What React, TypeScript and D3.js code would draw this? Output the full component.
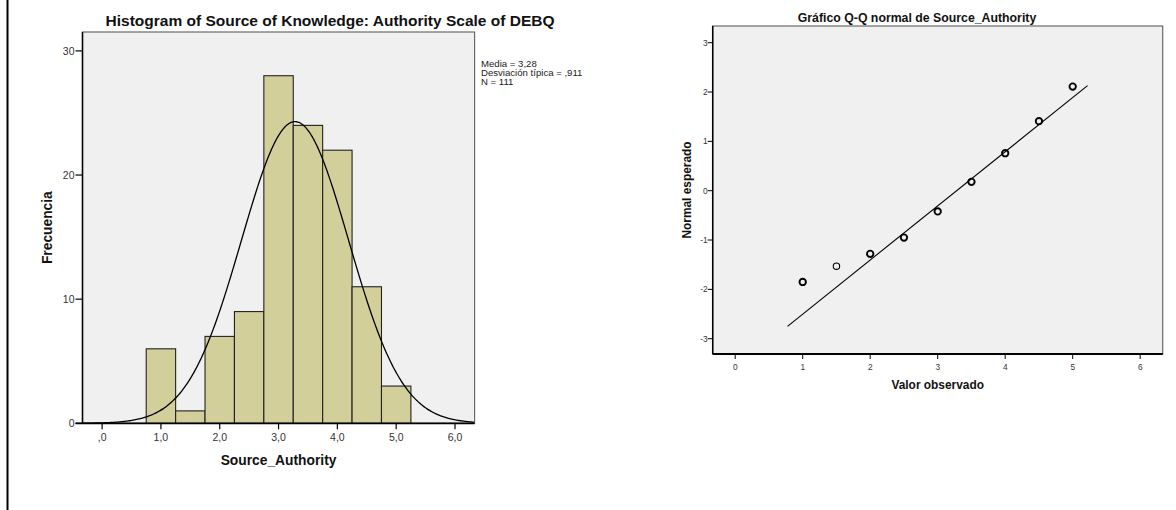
import React from "react";
import * as d3 from "d3";

// ---------- Histogram data ----------
const binCenters = [1.0, 1.5, 2.0, 2.5, 3.0, 3.5, 4.0, 4.5, 5.0];
const binCounts = [6, 1, 7, 9, 28, 24, 22, 11, 3];
const binWidth = 0.5;
const histXTicks = [0, 1, 2, 3, 4, 5, 6];
const histXTickLabels = [",0", "1,0", "2,0", "3,0", "4,0", "5,0", "6,0"];
const histYTicks = [0, 10, 20, 30];
const statMean = 3.28;
const statSd = 0.911;
const statN = 111;
const legendLines = ["Media = 3,28", "Desviación típica = ,911", "N = 111"];

// ---------- Q-Q data ----------
const qqObserved = [1.0, 1.5, 2.0, 2.5, 3.0, 3.5, 4.0, 4.5, 5.0];
const qqExpected = [-1.85, -1.53, -1.28, -0.95, -0.42, 0.18, 0.76, 1.41, 2.11];
const qqXTicks = [0, 1, 2, 3, 4, 5, 6];
const qqYTicks = [-3, -2, -1, 0, 1, 2, 3];
const qqLineRange = [0.775, 5.22];

const FONT = "'Liberation Sans', Arial, sans-serif";

function Histogram() {
  const left = 82.5, right = 474.6, top = 32, bottom = 423.3;
  const x = d3.scaleLinear().domain([-1 / 3, 19 / 3]).range([left, right]);
  const y = d3.scaleLinear().domain([0, 30]).range([bottom, bottom - 372.4]);
  const pdf = (v: number) =>
    (statN * binWidth) / (statSd * Math.sqrt(2 * Math.PI)) *
    Math.exp(-0.5 * ((v - statMean) / statSd) ** 2);
  const curvePts = d3.range(-1 / 3, 19 / 3 + 0.001, 0.02).map((v) => [v, pdf(v)] as [number, number]);
  const line = d3.line<[number, number]>().x((d) => x(d[0])).y((d) => y(d[1])).curve(d3.curveBasis);
  return (
    <g fontFamily={FONT}>
      <defs>
        <clipPath id="hclip">
          <rect x={left} y={top} width={right - left} height={bottom - top} />
        </clipPath>
      </defs>
      <text x={330} y={26} textAnchor="middle" fontSize={15.5} fontWeight="bold" fill="#111">
        Histogram of Source of Knowledge: Authority Scale of DEBQ
      </text>
      <rect x={left} y={top} width={right - left} height={bottom - top} fill="#f0f0f0" stroke="#6a6a6a" strokeWidth={1.2} />
      {binCenters.map((c, i) => (
        <rect
          key={i}
          x={x(c - binWidth / 2)}
          y={y(binCounts[i])}
          width={x(c + binWidth / 2) - x(c - binWidth / 2)}
          height={y(0) - y(binCounts[i])}
          fill="#d3cf9b"
          stroke="#222"
          strokeWidth={1.1}
        />
      ))}
      <path d={line(curvePts) || ""} fill="none" stroke="#000" strokeWidth={1.3} clipPath="url(#hclip)" />
      {/* axes */}
      <line x1={left} x2={left} y1={top} y2={bottom} stroke="#000" strokeWidth={1.5} />
      <line x1={left - 7} x2={right} y1={bottom} y2={bottom} stroke="#000" strokeWidth={1.8} />
      {histYTicks.map((t) => (
        <g key={t}>
          <line x1={left - 7} x2={left} y1={y(t)} y2={y(t)} stroke="#000" strokeWidth={1.2} />
          <text x={left - 8} y={y(t) + 4} textAnchor="end" fontSize={10.5} fill="#333">{t}</text>
        </g>
      ))}
      {histXTicks.map((t, i) => (
        <g key={t}>
          <line x1={x(t)} x2={x(t)} y1={bottom} y2={bottom + 6} stroke="#000" strokeWidth={1.2} />
          <text x={x(t)} y={bottom + 18} textAnchor="middle" fontSize={10.5} fill="#333">{histXTickLabels[i]}</text>
        </g>
      ))}
      <text x={(left + right) / 2} y={465} textAnchor="middle" fontSize={13.8} fontWeight="bold" fill="#111">
        Source_Authority
      </text>
      <text
        transform={`translate(52,${(top + bottom) / 2}) rotate(-90)`}
        textAnchor="middle"
        fontSize={13.8}
        fontWeight="bold"
        fill="#111"
      >
        Frecuencia
      </text>
      {legendLines.map((s, i) => (
        <text key={i} x={481} y={67 + i * 9} fontSize={9.6} fill="#222">{s}</text>
      ))}
    </g>
  );
}

function QQPlot() {
  const left = 712.7, right = 1162.7, top = 26, bottom = 354;
  const x = d3.scaleLinear().domain([-1 / 3, 19 / 3]).range([left, right]);
  const y = d3.scaleLinear().domain([-3, 3]).range([190.7 + 3 * 49.33, 190.7 - 3 * 49.33]);
  const fit = (v: number) => (v - statMean) / statSd;
  const counts = binCounts;
  return (
    <g fontFamily={FONT}>
      <text x={917} y={21.5} textAnchor="middle" fontSize={12.3} fontWeight="bold" fill="#111">
        Gráfico Q-Q normal de Source_Authority
      </text>
      <rect x={left} y={top} width={right - left} height={bottom - top} fill="#f0f0f0" stroke="#6a6a6a" strokeWidth={1.2} />
      <line
        x1={x(qqLineRange[0])}
        y1={y(fit(qqLineRange[0]))}
        x2={x(qqLineRange[1])}
        y2={y(fit(qqLineRange[1]))}
        stroke="#000"
        strokeWidth={1.1}
      />
      {qqObserved.map((v, i) => (
        <circle
          key={i}
          cx={x(v)}
          cy={y(qqExpected[i])}
          r={3.2}
          fill="none"
          stroke="#000"
          strokeWidth={counts[i] > 1 ? 1.9 : 1.1}
        />
      ))}
      <line x1={left} x2={left} y1={top} y2={bottom} stroke="#000" strokeWidth={1.5} />
      <line x1={left} x2={right} y1={bottom} y2={bottom} stroke="#000" strokeWidth={1.8} />
      {qqYTicks.map((t) => (
        <g key={t}>
          <line x1={left - 5} x2={left} y1={y(t)} y2={y(t)} stroke="#000" strokeWidth={1} />
          <text x={left - 5} y={y(t) + 3} textAnchor="end" fontSize={8.3} fill="#333">{t}</text>
        </g>
      ))}
      {qqXTicks.map((t) => (
        <g key={t}>
          <line x1={x(t)} x2={x(t)} y1={bottom} y2={bottom + 5} stroke="#000" strokeWidth={1} />
          <text x={x(t)} y={bottom + 16} textAnchor="middle" fontSize={8.3} fill="#333">{t}</text>
        </g>
      ))}
      <text x={(left + right) / 2} y={389} textAnchor="middle" fontSize={11.9} fontWeight="bold" fill="#111">
        Valor observado
      </text>
      <text
        transform={`translate(691,${(top + bottom) / 2}) rotate(-90)`}
        textAnchor="middle"
        fontSize={11.9}
        fontWeight="bold"
        fill="#111"
      >
        Normal esperado
      </text>
    </g>
  );
}

export default function App() {
  return (
    <svg
      width={1176}
      height={510}
      style={{ position: "absolute", left: 0, top: 0, background: "#fff" }}
    >
      <rect x={0} y={0} width={1176} height={510} fill="#fff" />
      <line x1={7.5} x2={7.5} y1={0} y2={510} stroke="#000" strokeWidth={2} />
      <Histogram />
      <QQPlot />
    </svg>
  );
}
